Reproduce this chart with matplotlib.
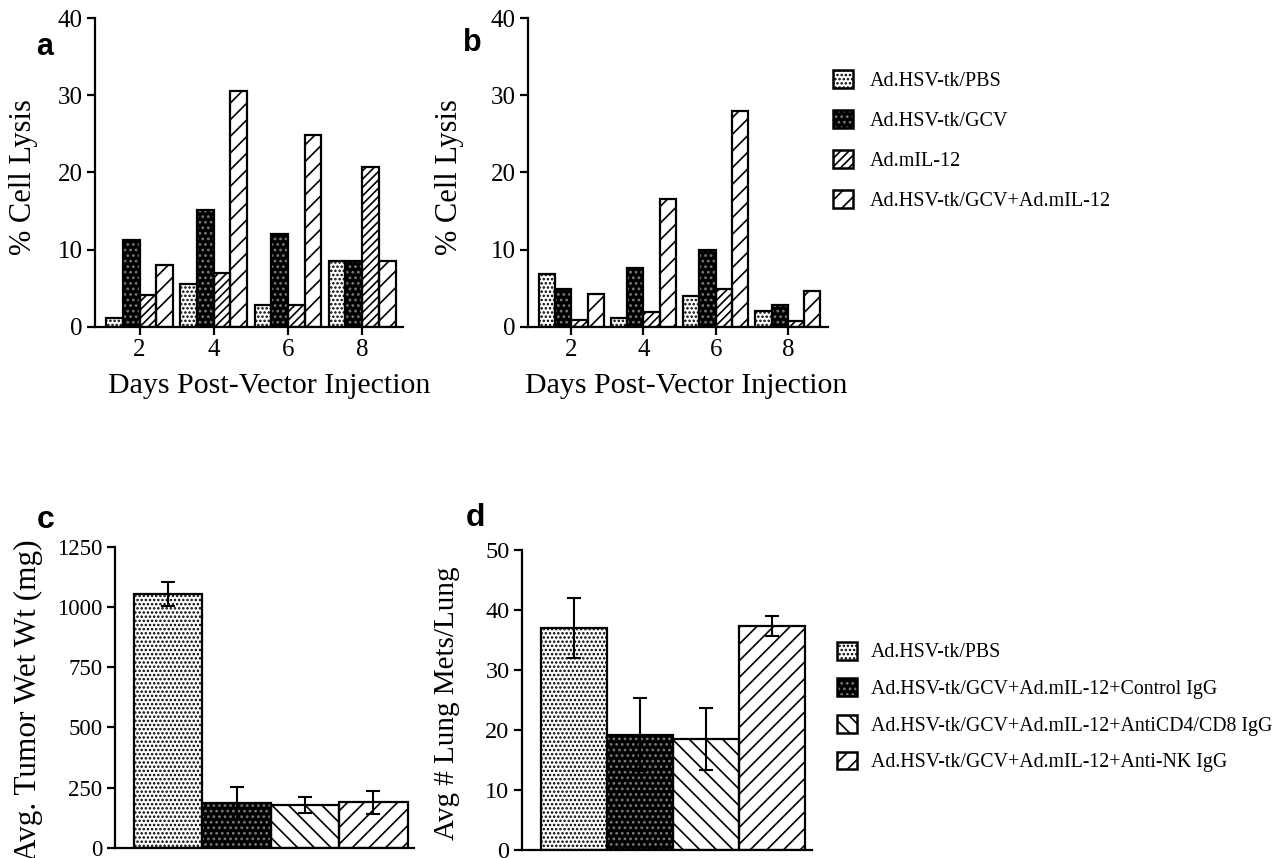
import numpy as np
import matplotlib
matplotlib.use('Agg')
import matplotlib.pyplot as plt
from matplotlib.patches import Patch

plt.rcParams['font.family'] = ['Liberation Serif', 'DejaVu Serif']
plt.rcParams['hatch.linewidth'] = 1.2

# data
days = [2, 4, 6, 8]
groups_ab = ['Ad.HSV-tk/PBS', 'Ad.HSV-tk/GCV', 'Ad.mIL-12', 'Ad.HSV-tk/GCV+Ad.mIL-12']
lysis_a = [[1.2, 5.5, 2.8, 8.5],
           [11.3, 15.1, 12.0, 8.5],
           [4.1, 7.0, 2.8, 20.7],
           [8.0, 30.6, 24.8, 8.5]]
lysis_b = [[6.9, 1.1, 4.0, 2.1],
           [4.9, 7.6, 10.0, 2.9],
           [0.9, 1.9, 4.9, 0.8],
           [4.2, 16.5, 27.9, 4.7]]

groups_cd = ['Ad.HSV-tk/PBS', 'Ad.HSV-tk/GCV+Ad.mIL-12+Control IgG',
             'Ad.HSV-tk/GCV+Ad.mIL-12+AntiCD4/CD8 IgG', 'Ad.HSV-tk/GCV+Ad.mIL-12+Anti-NK IgG']
tumor_wt = [1055, 186, 178, 190]
tumor_err = [50, 67, 33, 48]
lung_mets = [37.0, 19.2, 18.5, 37.3]
lung_err = [5.0, 6.1, 5.1, 1.6]

# (facecolor, hatch colour, hatch)
styles_ab = [('white', 'black', '....'), ('black', '#777777', '...'),
             ('white', 'black', '////'), ('white', 'black', '//')]
styles_cd = [('white', 'black', '....'), ('black', '#777777', '...'),
             ('white', 'black', '\\\\'), ('white', 'black', '//')]

sans = ['Liberation Sans', 'DejaVu Sans']


def hbar(ax, x, h, w, st, lw=1.6):
    fc, hc, ht = st
    ax.bar(x, h, w, color=fc, edgecolor=hc, hatch=ht, linewidth=0, zorder=2)
    ax.bar(x, h, w, fill=False, edgecolor='black', linewidth=lw, zorder=3)


def handle(st):
    fc, hc, ht = st
    return (Patch(facecolor=fc, edgecolor=hc, hatch=ht, linewidth=0),
            Patch(fill=False, edgecolor='black', linewidth=1.8))


def style_axes(ax, ts):
    for s in ['top', 'right']:
        ax.spines[s].set_visible(False)
    for s in ['left', 'bottom']:
        ax.spines[s].set_linewidth(1.6)
    ax.tick_params(width=1.6, length=6, labelsize=ts, pad=3)


fig = plt.figure(figsize=(12.8, 8.58), dpi=100)

w = 0.45
for pos, data, lab, lx, ly, xlx, ylx in [([0.0742, 0.619, 0.2406, 0.360], lysis_a, 'a', -0.162, 0.906, 0.565, -0.185),
                                         ([0.4125, 0.619, 0.234, 0.360], lysis_b, 'b', -0.187, 0.92, 0.527, -0.213)]:
    ax = fig.add_axes(pos)
    for i in range(4):
        hbar(ax, np.array(days) + (i - 1.5) * w, data[i], w, styles_ab[i])
    ax.set_xlim(0.8, 9.1)
    ax.set_ylim(0, 40)
    ax.set_yticks([0, 10, 20, 30, 40])
    ax.set_xticks(days)
    style_axes(ax, 18)
    ax.set_ylabel('% Cell Lysis', fontsize=22)
    ax.yaxis.set_label_coords(ylx, 0.485)
    ax.set_xlabel('Days Post-Vector Injection', fontsize=21.5)
    ax.xaxis.set_label_coords(xlx, -0.149)
    ax.text(lx, ly, lab, transform=ax.transAxes, fontsize=22, ha='center',
            va='center', fontweight='bold', family=sans)

fig.legend([handle(s) for s in styles_ab], groups_ab,
           loc='center left', bbox_to_anchor=(0.651, 0.836), frameon=False,
           fontsize=14.5, handlelength=1.0, handleheight=1.0,
           handletextpad=0.8, labelspacing=0.95, borderpad=0, borderaxespad=0)

xc = np.arange(4)
for pos, vals, errs, lim, ticks, ts, ylab, yls, ylx, lab, lx, ly in [
        ([0.0898, 0.0117, 0.234, 0.351], tumor_wt, tumor_err, 1250,
         [0, 250, 500, 750, 1000, 1250], 16.5, 'Avg. Tumor Wet Wt (mg)', 22.5, -0.24,
         'c', -0.233, 1.09),
        ([0.4078, 0.0093, 0.2266, 0.350], lung_mets, lung_err, 50,
         [0, 10, 20, 30, 40, 50], 17.5, 'Avg # Lung Mets/Lung', 21, -0.214,
         'd', -0.162, 1.107)]:
    ax = fig.add_axes(pos)
    for i in range(4):
        hbar(ax, xc[i], vals[i], 1.0, styles_cd[i])
    ax.errorbar(xc, vals, yerr=errs, fmt='none', ecolor='black',
                elinewidth=1.5, capsize=5, capthick=1.5, zorder=4)
    ax.set_xlim(-0.78, 3.6)
    ax.set_ylim(0, lim)
    ax.set_yticks(ticks)
    ax.set_xticks([])
    style_axes(ax, ts)
    ax.set_ylabel(ylab, fontsize=yls)
    ax.yaxis.set_label_coords(ylx, 0.49)
    ax.text(lx, ly, lab, transform=ax.transAxes, fontsize=23, ha='center',
            va='center', fontweight='bold', family=sans)

fig.legend([handle(s) for s in styles_cd], groups_cd,
           loc='center left', bbox_to_anchor=(0.654, 0.176), frameon=False,
           fontsize=14.3, handlelength=1.0, handleheight=1.0,
           handletextpad=0.7, labelspacing=0.8, borderpad=0, borderaxespad=0)

fig.savefig('out.png', dpi=100)
